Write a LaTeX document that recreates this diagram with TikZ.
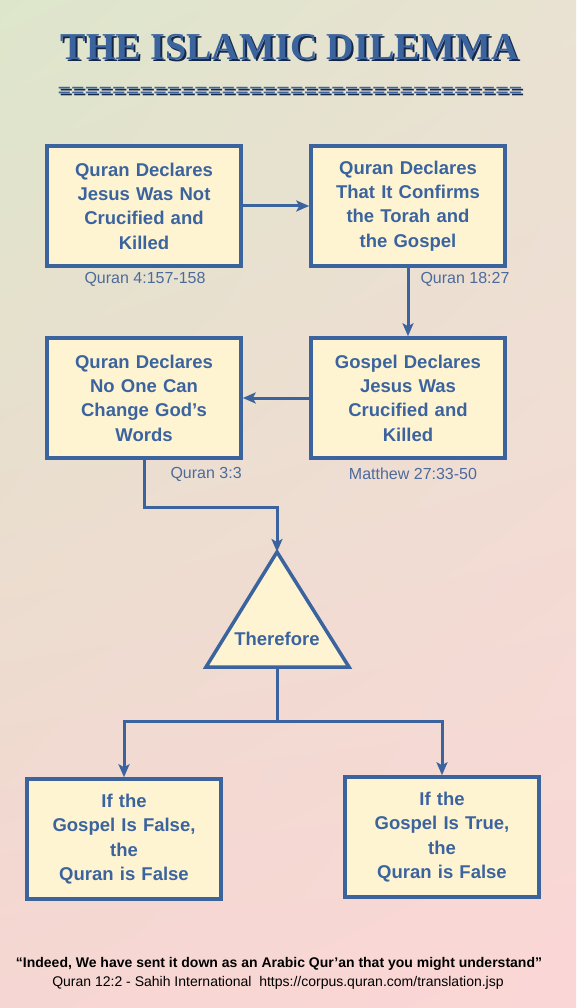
\documentclass[tikz,border=0pt]{standalone}
\usepackage{fontspec}
\setmainfont{Liberation Sans}
\newfontfamily\titlefont{Liberation Serif}
\usepackage{tikz}
\usetikzlibrary{arrows.meta,shadings}

\definecolor{lineblue}{HTML}{3B649F}
\definecolor{boxfill}{HTML}{FEF4D2}
\definecolor{refblue}{HTML}{4D6B9A}
\definecolor{shadowblue}{HTML}{16284A}
\definecolor{bgtl}{RGB}{221,230,203}
\definecolor{bgtr}{RGB}{233,226,210}
\definecolor{bgbl}{RGB}{246,214,210}
\definecolor{bgbr}{RGB}{251,214,214}

\tikzset{
  claimbox/.style={draw=lineblue, fill=boxfill, line width=3.5pt, minimum width=194pt, minimum height=120pt,
    text width=186pt, align=center, text=lineblue, font=\fontsize{18.5}{24.3}\selectfont\bfseries},
  reflabel/.style={text=refblue, font=\fontsize{16}{18}\selectfont},
  flow/.style={draw=lineblue, line width=3pt, -{Stealth[length=13pt,width=11pt,inset=3pt]}},
  plainflow/.style={draw=lineblue, line width=3pt},
}

\begin{document}
\begin{tikzpicture}[x=1pt, y=-1pt]
		% background
		\useasboundingbox (0,0) rectangle (576,1008);
		\shade[upper left=bgtl, upper right=bgtr, lower left=bgbl, lower right=bgbr]
			(0,0) rectangle (576,1008);

		% title
		\node[text=shadowblue, font=\titlefont\fontsize{38}{40}\selectfont\bfseries] (title shadow) at (292,49) {THE ISLAMIC DILEMMA};
		\node[text=lineblue, font=\titlefont\fontsize{38}{40}\selectfont\bfseries] (title) at (290,47) {THE ISLAMIC DILEMMA};
		\node[text=shadowblue, font=\titlefont\fontsize{24}{26}\selectfont\bfseries] (rule shadow) at (292,95) {==================================};
		\node[text=lineblue, font=\titlefont\fontsize{24}{26}\selectfont\bfseries] (rule) at (290,93) {==================================};

		% claims
		\node[claimbox] (q1) at (144,206) {Quran Declares\\Jesus Was Not\\Crucified and\\Killed};
		\node[claimbox] (q2) at (408,206) {Quran Declares\\That It Confirms\\the Torah and\\the Gospel};
		\node[claimbox] (q3) at (144,398) {Quran Declares\\No One Can\\Change God’s\\Words};
		\node[claimbox] (g1) at (408,398) {Gospel Declares\\Jesus Was\\Crucified and\\Killed};

		\node[reflabel] (r1) at (145,279) {Quran 4:157-158};
		\node[reflabel, anchor=west] (r2) at (417,279) {Quran 18:27};
		\node[reflabel, anchor=west] (r3) at (167,474) {Quran 3:3};
		\node[reflabel] (r4) at (413,474) {Matthew 27:33-50};

		% therefore
		\coordinate (tri top) at (277,552);
		\coordinate (tri left) at (206,667);
		\coordinate (tri right) at (349,667);
		\coordinate (tri bot) at (277,667);
		\draw[draw=lineblue, fill=boxfill, line width=3.5pt, line join=miter] (tri top) -- (tri right) -- (tri left) -- cycle;
		\node[text=lineblue, font=\fontsize{18.5}{24}\selectfont\bfseries] (therefore) at (277,639) {Therefore};

		% outcomes
		\node[claimbox] (o1) at (124,839) {If the\\Gospel Is False,\\the\\Quran is False};
		\node[claimbox] (o2) at (442,837) {If the\\Gospel Is True,\\the\\Quran is False};

		% connectors
		\draw[flow] (q1) -- (q2);
		\draw[flow] (q2) -- (g1);
		\draw[flow] (g1) -- (q3);
		\draw[flow] (q3.south) -- ++(0,48) -| (tri top);
		\draw[plainflow] (tri bot) -- ++(0,54) coordinate (split);
		\draw[flow] (split) -| (o1.north);
		\draw[flow] (split) -| (o2.north);

		% footer
		\node[font=\fontsize{14}{16}\selectfont\bfseries] (quote) at (279,964) {“Indeed, We have sent it down as an Arabic Qur'an that you might understand”};
		\node[font=\fontsize{14}{16}\selectfont] (source) at (278,983) {Quran 12:2 - Sahih International\ \ https://corpus.quran.com/translation.jsp};
	\end{tikzpicture}
\end{document}
